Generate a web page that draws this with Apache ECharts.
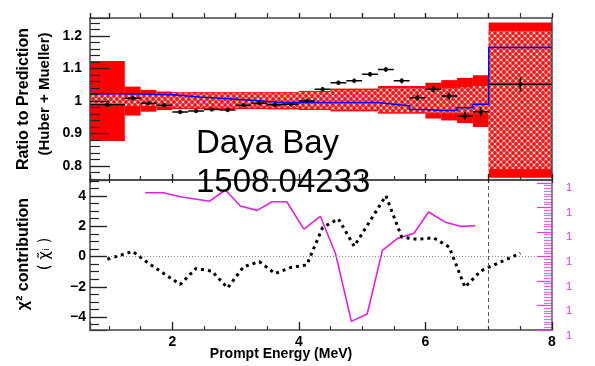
<!DOCTYPE html>
<html><head><meta charset="utf-8">
<script src="https://cdn.jsdelivr.net/npm/echarts@6/dist/echarts.min.js"></script>
<style>html,body{margin:0;padding:0;background:#fff}#c{width:595px;height:366px}</style>
</head><body><div id="c"></div>
<script>
// ---- data ----
const binEdges = [0.7,1.25,1.5,1.75,2.0,2.25,2.5,2.75,3.0,3.25,3.5,3.75,4.0,4.25,4.5,4.75,5.0,5.25,5.5,5.75,6.0,6.25,6.5,6.75,7.0,8.0];
const ratioData = [0.988,1.008,0.993,0.987,0.966,0.969,0.974,0.972,0.987,0.993,0.988,0.990,1.000,1.036,1.056,1.062,1.082,1.097,1.062,1.010,1.036,1.015,0.954,0.967,1.051];
const ratioErr  = [0.005,0.005,0.005,0.005,0.005,0.005,0.005,0.005,0.005,0.005,0.005,0.005,0.006,0.006,0.006,0.006,0.007,0.007,0.008,0.009,0.010,0.011,0.012,0.014,0.022];
const predLine  = [1.022,1.021,1.020,1.019,1.015,1.011,1.008,1.005,1.002,0.998,0.995,0.995,0.995,0.995,0.995,0.995,0.995,0.990,0.985,0.974,0.971,0.971,0.979,0.990,1.164];
const outerHi = [1.123,1.044,1.034,1.029,1.027,1.027,1.027,1.027,1.027,1.027,1.027,1.027,1.031,1.031,1.038,1.038,1.038,1.046,1.046,1.046,1.056,1.064,1.071,1.079,1.241];
const outerLo = [0.877,0.955,0.967,0.972,0.975,0.975,0.975,0.975,0.975,0.975,0.974,0.974,0.972,0.972,0.968,0.968,0.968,0.961,0.961,0.961,0.946,0.940,0.932,0.920,0.764];
const innerHi = [1.021,1.021,1.022,1.023,1.024,1.024,1.024,1.024,1.024,1.024,1.024,1.024,1.028,1.028,1.033,1.033,1.034,1.040,1.040,1.040,1.038,1.040,1.042,1.046,1.215];
const innerLo = [0.985,0.985,0.984,0.982,0.979,0.979,0.979,0.979,0.979,0.979,0.978,0.978,0.976,0.976,0.972,0.972,0.972,0.965,0.965,0.965,0.962,0.962,0.962,0.962,0.790];
const chiData = [-0.18,0.34,-0.45,-1.15,-1.85,-0.79,-0.97,-2.08,-0.68,-0.34,-1.13,-0.72,-0.56,1.92,2.49,0.68,2.35,4.02,1.29,1.13,1.24,0.63,-2.03,-0.95,0.22];
const magX = [1.573,1.863,2.126,2.59,2.84,3.075,3.34,3.58,3.81,4.08,4.34,4.58,4.83,5.08,5.32,5.56,5.82,6.05,6.32,6.56,6.79];
const magY = [4.22,4.22,3.95,3.66,4.4,3.34,3.05,3.62,3.62,1.81,2.66,0.18,-4.29,-3.8,0.41,1.2,1.54,2.94,2.26,1.99,2.03];
const magTickLabel = '1';
const titleLines = ['Daya Bay', '1508.04233'];

// ---- helpers ----
function makeHatch(){
  const c = document.createElement('canvas'); c.width = 6; c.height = 6;
  const g = c.getContext('2d');
  g.fillStyle = '#c9c9c9'; g.fillRect(0,0,6,6);
  g.fillStyle = '#ff1010';
  [[0,0],[6,0],[0,6],[6,6],[3,3]].forEach(([x,y])=>{ g.beginPath(); g.arc(x,y,1.9,0,2*Math.PI); g.fill(); });
  return c;
}
const hatch = {image: makeHatch(), repeat: 'repeat'};

const nb = binEdges.length - 1;
const outerAreas = [], innerAreas = [], errBars = [], dots = [], stepLine = [], chiLine = [];
for (let i = 0; i < nb; i++) {
  const x0 = binEdges[i], x1 = binEdges[i+1], xc = (x0 + x1) / 2;
  outerAreas.push([{coord:[x0, outerHi[i]]}, {coord:[x1, outerLo[i]]}]);
  innerAreas.push([{coord:[x0, innerHi[i]]}, {coord:[x1, innerLo[i]]}]);
  errBars.push([x0, ratioData[i]], [x1, ratioData[i]], ['-','-'],
               [xc, ratioData[i] + ratioErr[i]], [xc, ratioData[i] - ratioErr[i]], ['-','-']);
  dots.push([xc, ratioData[i]]);
  stepLine.push([x0, predLine[i]], [x1, predLine[i]]);
  chiLine.push([xc, chiData[i]]);
}
const magLine = magX.map((x, i) => [x, magY[i]]);

const frame = '#444';
const tickFont = {fontFamily:'Liberation Sans', fontWeight:'bold', fontSize:14, color:'#000'};
function tk(len, inside){ return {show:true, inside:inside, length:len, lineStyle:{color:'#222', width:1.2}}; }

const grids = [
  {left:90, right:43, top:18, height:162},
  {left:90, right:43, top:180, height:150}
];
const xAxes = [
  {gridIndex:0, type:'value', min:0.7, max:8, splitNumber:7, position:'bottom', z:10,
   axisLine:{show:true, onZero:false, lineStyle:{color:frame, width:1.5}}, axisLabel:{show:false},
   axisTick:tk(6, true), splitLine:{show:false}},
  {gridIndex:0, type:'value', min:0.7, max:8, splitNumber:7, position:'top', z:10,
   axisLine:{show:true, onZero:false, lineStyle:{color:frame, width:1.5}}, axisLabel:{show:false},
   axisTick:tk(5, false), splitLine:{show:false}},
  {gridIndex:1, type:'value', min:0.7, max:8, splitNumber:4, position:'bottom', z:10,
   axisLine:{show:true, onZero:false, lineStyle:{color:frame, width:1.5}},
   axisLabel:Object.assign({margin:5, showMinLabel:false, showMaxLabel:true}, tickFont),
   axisTick:tk(8, true), splitLine:{show:false}},
  {gridIndex:1, type:'value', min:0.7, max:8, splitNumber:7, position:'top', z:10,
   axisLine:{show:true, onZero:false, lineStyle:{color:frame, width:1.5}}, axisLabel:{show:false},
   axisTick:tk(3, true), splitLine:{show:false}}
];
const yAxes = [
  {gridIndex:0, type:'value', min:0.757, max:1.255, splitNumber:5, position:'left', z:10,
   axisLine:{show:true, onZero:false, lineStyle:{color:frame, width:1.5}},
   axisLabel:Object.assign({margin:8, showMinLabel:false, showMaxLabel:false}, tickFont),
   axisTick:tk(20, true), splitLine:{show:false}},
  {gridIndex:0, type:'value', min:0.757, max:1.255, position:'right', z:10,
   axisLine:{show:true, onZero:false, lineStyle:{color:frame, width:1.5}},
   axisLabel:{show:false}, axisTick:{show:false}, splitLine:{show:false}},
  {gridIndex:1, type:'value', min:-4.86, max:5.06, splitNumber:5, position:'left', z:10,
   axisLine:{show:true, onZero:false, lineStyle:{color:frame, width:1.5}},
   axisLabel:Object.assign({margin:4, showMinLabel:false, showMaxLabel:false,
     formatter:v => String(v).replace('-', '\u2212')}, tickFont),
   axisTick:tk(17, true), splitLine:{show:false}},
  {gridIndex:1, type:'value', min:0, max:6.12, interval:1, position:'right', z:10,
   axisLine:{show:true, onZero:false, lineStyle:{color:'#7a507a', width:1.5}},
   axisLabel:{show:true, inside:false, margin:14, showMaxLabel:false, color:'#dd33dd', fontSize:11,
     fontFamily:'Liberation Sans', verticalAlign:'top', formatter:() => magTickLabel},
   axisTick:{show:true, inside:true, length:15, lineStyle:{color:'#dd44dd', width:1}}, splitLine:{show:false}}
];

// thin strips whose grid lines act as the tick marks (scales identical to the main axes)
function tickStrip(grid, dim, scale, major, minorN, color){
  const gi = grids.length;
  grids.push(grid);
  const lineStyle = {color:color, width:1.2};
  const ax = Object.assign({gridIndex:gi, type:'value', z:10,
    axisLine:{show:false}, axisTick:{show:false}, axisLabel:{show:false},
    splitLine:{show:major, lineStyle:lineStyle},
    minorTick:{show:false, splitNumber:minorN || 5},
    minorSplitLine:{show:!!minorN && !major, lineStyle:lineStyle}}, scale);
  const dummy = {gridIndex:gi, type:'value', show:false};
  if (dim === 'y') { yAxes.push(ax); xAxes.push(dummy); } else { xAxes.push(ax); yAxes.push(dummy); }
}
const topY = {min:0.757, max:1.255, splitNumber:5};
const botY = {min:-4.86, max:5.06, splitNumber:5};
const magYs = {min:0, max:6.12, interval:1};
const xTop = {min:0.7, max:8, splitNumber:7};
const xBot = {min:0.7, max:8, splitNumber:4};
tickStrip({left:90, width:20, top:18, height:162}, 'y', topY, true, 0, '#222');
tickStrip({left:90, width:10, top:18, height:162}, 'y', topY, false, 5, '#222');
tickStrip({left:90, right:43, top:13, height:5}, 'x', xTop, true, 0, '#333');
tickStrip({left:90, right:43, top:13, height:5}, 'x', xTop, false, 2, '#333');
tickStrip({left:90, right:43, top:174, height:6}, 'x', xTop, true, 0, '#333');
tickStrip({left:90, right:43, top:176, height:4}, 'x', xTop, false, 2, '#333');
tickStrip({left:90, width:17, top:180, height:150}, 'y', botY, true, 0, '#222');
tickStrip({left:90, width:9, top:180, height:150}, 'y', botY, false, 4, '#222');
tickStrip({left:90, right:43, top:322, height:8}, 'x', xBot, true, 0, '#333');
tickStrip({left:90, right:43, top:326, height:4}, 'x', xBot, false, 4, '#333');
tickStrip({right:43, width:15, top:180, height:150}, 'y', magYs, true, 0, '#dd44dd');
tickStrip({right:43, width:8, top:180, height:150}, 'y', magYs, false, 9, '#e070e0');

const chart = echarts.init(document.getElementById('c'));
chart.setOption({
  animation:false,
  grid:grids,
  xAxis:xAxes,
  yAxis:yAxes,
  series:[
    {type:'line', name:'outer band', xAxisIndex:0, yAxisIndex:0, data:stepLine, symbol:'none', silent:true,
     lineStyle:{opacity:0}, z:1,
     markArea:{silent:true, label:{show:false}, itemStyle:{color:'#ff0000', opacity:1, borderWidth:0}, data:outerAreas}},
    {type:'line', name:'inner band', xAxisIndex:0, yAxisIndex:0, data:stepLine, symbol:'none', silent:true,
     lineStyle:{opacity:0}, z:2,
     markArea:{silent:true, label:{show:false}, itemStyle:{color:hatch, opacity:1, borderWidth:0}, data:innerAreas}},
    {type:'line', name:'prediction', xAxisIndex:0, yAxisIndex:0, data:stepLine, symbol:'none',
     lineStyle:{color:'#0000ff', width:1.5}, z:3},
    {type:'line', name:'data err', xAxisIndex:0, yAxisIndex:0, data:errBars, symbol:'none', connectNulls:false,
     lineStyle:{color:'#000', width:1.5}, z:4},
    {type:'scatter', name:'data', xAxisIndex:0, yAxisIndex:0, data:dots, symbolSize:4.5,
     itemStyle:{color:'#000'}, z:5},
    {type:'line', name:'magenta', xAxisIndex:2, yAxisIndex:2, data:magLine, symbol:'none',
     lineStyle:{color:'#dd22dd', width:1.6}, z:3},
    {type:'line', name:'chi', xAxisIndex:2, yAxisIndex:2, data:chiLine, symbol:'none',
     lineStyle:{color:'#000', width:3, type:[3,4]}, z:4,
     markLine:{silent:true, symbol:'none', label:{show:false}, animation:false,
       data:[
         {yAxis:0, lineStyle:{color:'#888', type:[1,2], width:1}},
         {xAxis:7, lineStyle:{color:'#555', type:[4,3], width:1}}
       ]}}
  ],
  graphic:[
    {type:'text', x:196, y:144, z:100, style:{text:titleLines[0], font:'33px "Liberation Sans"', fill:'#000', textVerticalAlign:'middle'}},
    {type:'text', x:196, y:183, z:100, style:{text:titleLines[1], font:'33px "Liberation Sans"', fill:'#000', textVerticalAlign:'middle'}},
    {type:'text', x:24, y:99, rotation:Math.PI/2, style:{text:'Ratio to Prediction', font:'bold 16px "Liberation Sans"', fill:'#000', textAlign:'center', textVerticalAlign:'middle'}},
    {type:'text', x:45, y:94, rotation:Math.PI/2, style:{text:'(Huber + Mueller)', font:'bold 15px "Liberation Sans"', fill:'#000', textAlign:'center', textVerticalAlign:'middle'}},
    {type:'text', x:24, y:254, rotation:Math.PI/2, style:{text:'\u03C7\u00B2 contribution', font:'bold 16px "Liberation Sans"', fill:'#000', textAlign:'center', textVerticalAlign:'middle'}},
    {type:'text', x:45, y:254, rotation:Math.PI/2, style:{text:'( \u03C7\u0303\u1D62 )', font:'15px "DejaVu Sans"', fill:'#000', textAlign:'center', textVerticalAlign:'middle'}},
    {type:'text', x:281, y:354, style:{text:'Prompt Energy (MeV)', font:'bold 14px "Liberation Sans"', fill:'#000', textAlign:'center', textVerticalAlign:'middle'}}
  ]
});
</script></body></html>
